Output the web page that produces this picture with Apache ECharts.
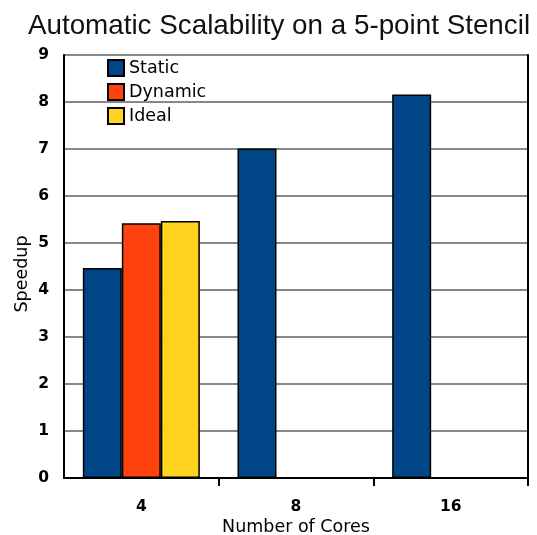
<!DOCTYPE html>
<html><head><meta charset="utf-8">
<script src="https://cdn.jsdelivr.net/npm/echarts@6/dist/echarts.min.js"></script>
<style>html,body{margin:0;padding:0;background:#fff}#c{width:537px;height:535px}</style>
</head><body><div id="c"></div>
<script>
const categories = ['4', '8', '16'];
const staticVals = [4.47, 7.01, 8.16];
const dynamicVals = [5.42, null, null];
const idealVals = [5.47, null, null];
const yTicks = [0, 1, 2, 3, 4, 5, 6, 7, 8, 9];

const chart = echarts.init(document.getElementById('c'), null, {renderer: 'canvas'});
const border = {borderColor: '#000', borderWidth: 1.5};
chart.setOption({
  animation: false,
  backgroundColor: '#fff',
  title: {
    text: 'Automatic Scalability on a 5-point Stencil',
    left: 274, top: 7, textAlign: 'center',
    textStyle: {fontFamily: 'Liberation Sans', fontWeight: 'normal', fontSize: 27.8, color: '#111'}
  },
  legend: {
    orient: 'vertical', left: 102, top: 54, itemWidth: 16, itemHeight: 16, itemGap: 6,
    textStyle: {fontFamily: 'DejaVu Sans', fontSize: 17.5, color: '#000', padding: [0,0,0,0]},
    data: ['Static', 'Dynamic', 'Ideal'],
    icon: 'rect'
  },
  grid: {left: 64, right: 9, top: 55, bottom: 57, containLabel: false, outerBoundsMode: 'none'},
  xAxis: {
    type: 'category', data: categories,
    name: 'Number of Cores', nameLocation: 'middle', nameGap: 40, nameMoveOverlap: false,
    nameTextStyle: {fontFamily: 'DejaVu Sans', fontSize: 17.5, color: '#000'},
    axisLine: {lineStyle: {color: '#000', width: 2}},
    axisTick: {show: true, length: 8, lineStyle: {color: '#000', width: 2}, interval: function (i) { return i !== 0; }},
    axisLabel: {fontFamily: 'DejaVu Sans', fontWeight: 'bold', fontSize: 15.5, color: '#000', margin: 21}
  },
  yAxis: [{
    type: 'value', min: yTicks[0], max: yTicks[yTicks.length-1], interval: 1,
    name: 'Speedup', nameLocation: 'middle', nameGap: 33, nameRotate: 90, nameMoveOverlap: false,
    nameTextStyle: {fontFamily: 'DejaVu Sans', fontSize: 17.5, color: '#000', padding: [0, 15, 0, 0]},
    axisLine: {show: true, lineStyle: {color: '#000', width: 2}},
    axisTick: {show: false},
    splitLine: {lineStyle: {color: '#888', width: 2}},
    axisLabel: {fontFamily: 'DejaVu Sans', fontWeight: 'bold', fontSize: 15.5, color: '#000', margin: 15}
  }, {
    type: 'value', position: 'right', min: 0, max: 9, interval: 1,
    axisLine: {show: true, lineStyle: {color: '#000', width: 2}},
    axisTick: {show: false}, axisLabel: {show: false}, splitLine: {show: false}
  }],
  series: [
    {name: 'Static', type: 'bar', data: staticVals, barWidth: 39, barGap: '0%',
     itemStyle: Object.assign({color: '#004586'}, border)},
    {name: 'Dynamic', type: 'bar', data: dynamicVals, barWidth: 39, barGap: '0%',
     itemStyle: Object.assign({color: '#ff420e'}, border)},
    {name: 'Ideal', type: 'bar', data: idealVals, barWidth: 39, barGap: '0%',
     itemStyle: Object.assign({color: '#ffd320'}, border)}
  ]
});
</script></body></html>
